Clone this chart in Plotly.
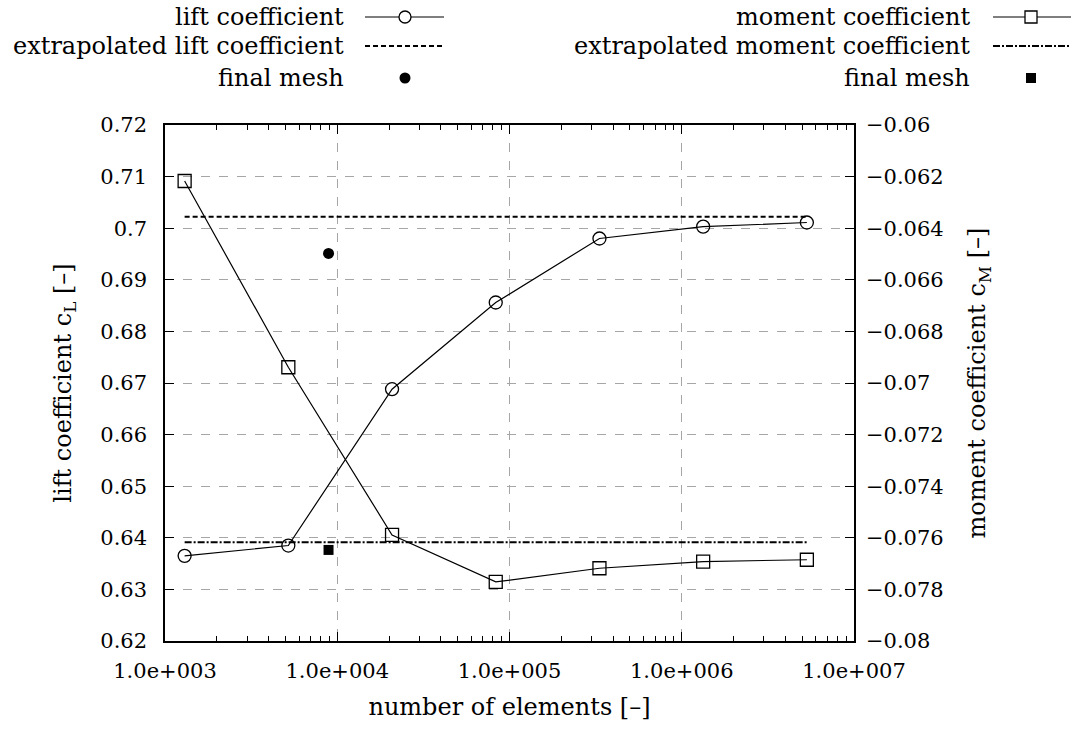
import plotly.graph_objects as go

# Mesh convergence study: lift and moment coefficients vs. number of elements
elements = [1300, 5200, 20800, 83200, 332800, 1331200, 5324800]
lift_coeff = [0.6365, 0.6385, 0.6688, 0.6856, 0.6980, 0.7003, 0.7011]
moment_coeff = [-0.06217, -0.06939, -0.07589, -0.07771, -0.07718, -0.07692, -0.07685]

lift_extrapolated = 0.7022
moment_extrapolated = -0.07617

final_mesh_elements = [8900]
final_mesh_lift = [0.6951]
final_mesh_moment = [-0.07647]

lift_ticks = [0.62, 0.63, 0.64, 0.65, 0.66, 0.67, 0.68, 0.69, 0.70, 0.71, 0.72]
lift_tick_text = ["0.62", "0.63", "0.64", "0.65", "0.66", "0.67", "0.68", "0.69", "0.7", "0.71", "0.72"]
moment_ticks = [-0.08, -0.078, -0.076, -0.074, -0.072, -0.07, -0.068, -0.066, -0.064, -0.062, -0.06]
moment_tick_text = ["\u22120.08", "\u22120.078", "\u22120.076", "\u22120.074", "\u22120.072", "\u22120.07",
                    "\u22120.068", "\u22120.066", "\u22120.064", "\u22120.062", "\u22120.06"]
x_ticks = [1e3, 1e4, 1e5, 1e6, 1e7]
x_tick_text = ["1.0e+003", "1.0e+004", "1.0e+005", "1.0e+006", "1.0e+007"]
x_minor_ticks = [m * 10 ** e for e in range(3, 7) for m in range(2, 10)]

FONT = "DejaVu Serif"
FS_TEXT = 24
FS_TICK = 21
W, H = 1076, 729
ML, MR, MT, MB = 165, 222, 125, 88
PW, PH = W - ML - MR, H - MT - MB


def px(x):
    return (x - ML) / PW


def py(y):
    return (H - MB - y) / PH


fig = go.Figure()

fig.add_trace(go.Scatter(
    x=[elements[0], elements[-1]], y=[lift_extrapolated, lift_extrapolated],
    mode="lines", line=dict(color="black", width=2, dash="5px,3px"),
    yaxis="y", showlegend=False))
fig.add_trace(go.Scatter(
    x=[elements[0], elements[-1]], y=[moment_extrapolated, moment_extrapolated],
    mode="lines", line=dict(color="black", width=2, dash="7px,2px,2px,2px"),
    yaxis="y2", showlegend=False))

fig.add_trace(go.Scatter(
    x=elements, y=lift_coeff, mode="lines+markers",
    line=dict(color="black", width=1.2),
    marker=dict(symbol="circle-open", size=13, color="black", line=dict(width=1.3)),
    yaxis="y", showlegend=False))
fig.add_trace(go.Scatter(
    x=elements, y=moment_coeff, mode="lines+markers",
    line=dict(color="black", width=1.2),
    marker=dict(symbol="square-open", size=13, color="black", line=dict(width=1.3)),
    yaxis="y2", showlegend=False))

fig.add_trace(go.Scatter(
    x=final_mesh_elements, y=final_mesh_lift, mode="markers",
    marker=dict(symbol="circle", size=11, color="black"),
    yaxis="y", showlegend=False))
fig.add_trace(go.Scatter(
    x=final_mesh_elements, y=final_mesh_moment, mode="markers",
    marker=dict(symbol="square", size=10, color="black"),
    yaxis="y2", showlegend=False))

# Key drawn above the plot: text right-aligned, sample to its right
shapes = []
annotations = []
key_rows = [17, 46, 78]
left_key = dict(text_x=346, x0=365, x1=444, mid=405,
                labels=["lift coefficient", "extrapolated lift coefficient", "final mesh"],
                marker="circle", dash="5px,3px")
right_key = dict(text_x=972, x0=993, x1=1071, mid=1031,
                 labels=["moment coefficient", "extrapolated moment coefficient", "final mesh"],
                 marker="rect", dash="7px,2px,2px,2px")

for key in (left_key, right_key):
    for label, ry in zip(key["labels"], key_rows):
        annotations.append(dict(text=label, xref="paper", yref="paper",
                                x=px(key["text_x"]), y=py(ry), xanchor="right", yanchor="middle",
                                showarrow=False, font=dict(family=FONT, size=FS_TEXT, color="black")))
    # solid line with open marker
    shapes.append(dict(type="line", xref="paper", yref="paper",
                       x0=px(key["x0"]), x1=px(key["x1"]), y0=py(key_rows[0]), y1=py(key_rows[0]),
                       line=dict(color="black", width=1.2)))
    shapes.append(dict(type=key["marker"], xref="paper", yref="paper",
                       xsizemode="pixel", ysizemode="pixel",
                       xanchor=px(key["mid"]), yanchor=py(key_rows[0]),
                       x0=-6, x1=6, y0=-6, y1=6,
                       fillcolor="white", line=dict(color="black", width=1.3)))
    # extrapolated line
    shapes.append(dict(type="line", xref="paper", yref="paper",
                       x0=px(key["x0"]), x1=px(key["x1"]), y0=py(key_rows[1]), y1=py(key_rows[1]),
                       line=dict(color="black", width=2, dash=key["dash"])))
    # filled marker
    half = 5.5 if key["marker"] == "circle" else 5
    shapes.append(dict(type=key["marker"], xref="paper", yref="paper",
                       xsizemode="pixel", ysizemode="pixel",
                       xanchor=px(key["mid"]), yanchor=py(key_rows[2]),
                       x0=-half, x1=half, y0=-half, y1=half,
                       fillcolor="black", line=dict(color="black", width=0)))

grid = dict(showgrid=True, gridcolor="#a6a6a6", gridwidth=1, griddash="dash")

fig.update_layout(
    width=W, height=H,
    margin=dict(l=ML, r=MR, t=MT, b=MB),
    paper_bgcolor="white", plot_bgcolor="white",
    font=dict(family=FONT, size=FS_TICK, color="black"),
    showlegend=False,
    shapes=shapes,
    annotations=annotations,
    xaxis=dict(
        type="log", range=[3, 7], automargin=False,
        tickvals=x_ticks, ticktext=x_tick_text,
        ticks="inside", ticklen=9, tickwidth=1, tickcolor="black",
        minor=dict(tickvals=x_minor_ticks, ticks="inside", ticklen=5, tickwidth=1,
                   tickcolor="black", showgrid=False),
        showline=True, linecolor="black", linewidth=1.5, mirror="ticks",
        zeroline=False,
        title=dict(text="number of elements [\u2013]", standoff=16,
                   font=dict(size=FS_TEXT)),
        ticklabelstandoff=10,
        **grid),
    yaxis=dict(
        range=[0.62, 0.72], automargin=False,
        tickvals=lift_ticks, ticktext=lift_tick_text,
        ticks="inside", ticklen=9, tickwidth=1, tickcolor="black",
        showline=True, linecolor="black", linewidth=1.5,
        zeroline=False,
        title=dict(text="lift coefficient c<sub>L</sub> [\u2013]", standoff=22,
                   font=dict(size=FS_TEXT)),
        ticklabelstandoff=12,
        **grid),
    yaxis2=dict(
        range=[-0.08, -0.06], overlaying="y", side="right", automargin=False,
        tickvals=moment_ticks, ticktext=moment_tick_text,
        ticks="inside", ticklen=9, tickwidth=1, tickcolor="black",
        showline=True, linecolor="black", linewidth=1.5,
        showgrid=False, zeroline=False,
        title=dict(text="moment coefficient c<sub>M</sub> [\u2013]", standoff=26,
                   font=dict(size=FS_TEXT)),
        ticklabelstandoff=6),
)

fig.write_html("out.html")
